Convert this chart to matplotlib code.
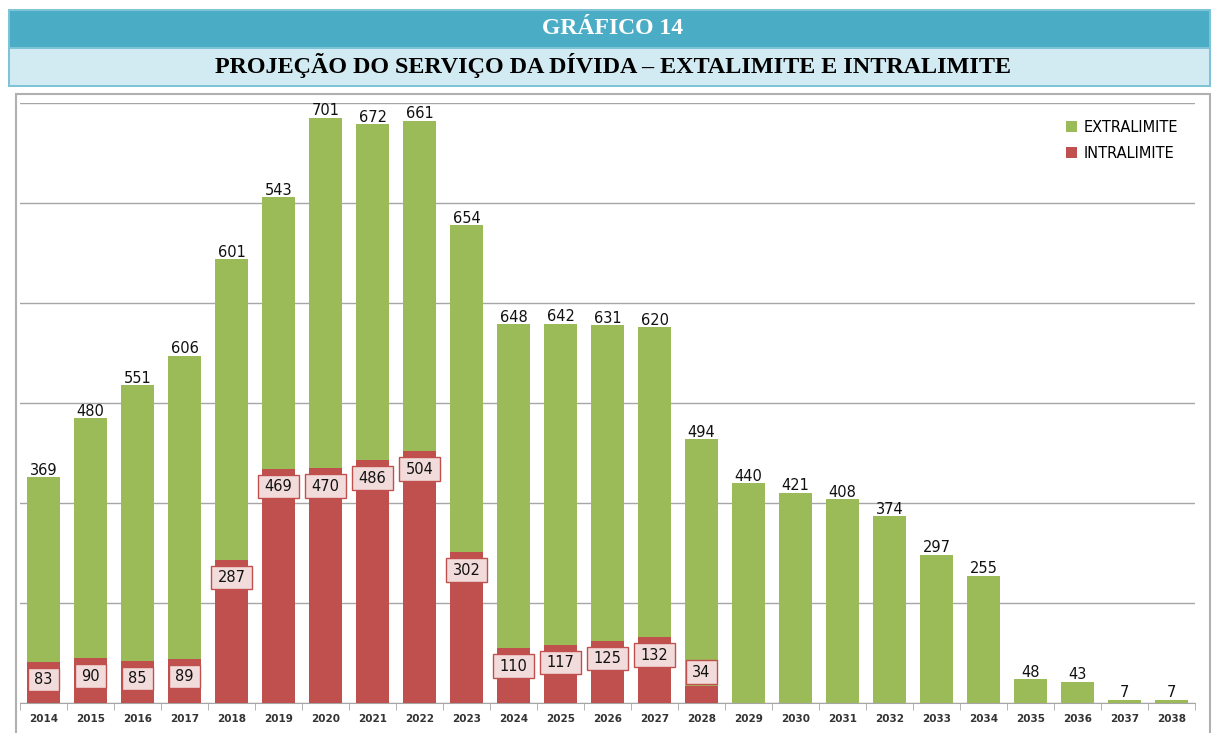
import matplotlib.pyplot as plt
import numpy as np
from matplotlib.patches import Rectangle
from matplotlib.path import Path

W, H = 1213, 733

years = [str(y) for y in range(2014, 2039)]
intralimite = [83, 90, 85, 89, 287, 469, 470, 486, 504, 302, 110, 117, 125, 132, 34,
               0, 0, 0, 0, 0, 0, 0, 0, 0, 0]
extralimite = [369, 480, 551, 606, 601, 543, 701, 672, 661, 654, 648, 642, 631, 620, 494,
               440, 421, 408, 374, 297, 255, 48, 43, 7, 7]

GREEN = "#9BBB59"
RED = "#C0504D"
TEAL = "#4BACC6"

plt.rcParams["font.family"] = ["DejaVu Sans"]


def fx(px):
    return px / W


def fy(py):
    return 1 - py / H


def wide_box(x0, y0, width, height, mutation_size):
    # label box with more padding left/right than top/bottom
    px, py = 0.45 * mutation_size, 0.3 * mutation_size
    x0, y0 = x0 - px, y0 - py
    x1, y1 = x0 + width + 2 * px, y0 + height + 2 * py
    return Path([(x0, y0), (x1, y0), (x1, y1), (x0, y1), (x0, y0)], closed=True)


fig = plt.figure(figsize=(W / 100, H / 100), dpi=100)

# title boxes
fig.patches.append(Rectangle((fx(8), fy(87)), fx(1203), 78 / H, transform=fig.transFigure,
                             fc="#7FC3D6", ec="none", zorder=0))
fig.patches.append(Rectangle((fx(10), fy(47)), fx(1199), 36 / H, transform=fig.transFigure,
                             fc=TEAL, ec="none", zorder=1))
fig.patches.append(Rectangle((fx(10), fy(85)), fx(1199), 36 / H, transform=fig.transFigure,
                             fc="#D2EBF2", ec="none", zorder=1))
fig.text(fx(613), fy(28), "GRÁFICO 14", ha="center", va="center", color="white",
         fontsize=17, fontweight="bold", family="Liberation Serif")
fig.text(fx(613), fy(66), "PROJEÇÃO DO SERVIÇO DA DÍVIDA – EXTALIMITE E INTRALIMITE",
         ha="center", va="center", color="black", fontsize=17.4, fontweight="bold",
         family="Liberation Serif")

# chart frame
fig.patches.append(Rectangle((fx(16), fy(740)), fx(1194), 646 / H, transform=fig.transFigure,
                             fc="white", ec="#B0B0B0", lw=1.5, zorder=0))

ax = fig.add_axes([fx(20), fy(703), fx(1175), 600 / H])
ax.set_zorder(3)
ax.set_facecolor("none")
x = np.arange(len(years))
bw = 0.69
ax.bar(x, intralimite, bw, color=RED, label="INTRALIMITE", zorder=3)
ax.bar(x, extralimite, bw, bottom=intralimite, color=GREEN, label="EXTRALIMITE", zorder=3)

ax.set_xlim(-0.5, len(years) - 0.5)
ax.set_ylim(0, 1200)
ax.set_yticks(range(0, 1201, 200))
ax.set_yticklabels([])
ax.tick_params(axis="y", length=0)
ax.yaxis.grid(True, color="#A6A6A6", lw=1)
ax.set_axisbelow(True)
for s in ["left", "right", "top"]:
    ax.spines[s].set_visible(False)
ax.spines["bottom"].set_color("#A6A6A6")

ax.set_xticks(x)
ax.set_xticklabels(years, fontsize=7.5, fontweight="bold", color="#333333")
ax.tick_params(axis="x", length=0, pad=8)
ax.set_xticks(np.arange(-0.5, len(years)), minor=True)
ax.tick_params(axis="x", which="minor", length=5, color="#A6A6A6", direction="out")

for i in range(len(years)):
    top = intralimite[i] + extralimite[i]
    ax.annotate(str(extralimite[i]), (x[i], top), xytext=(0, -0.5), textcoords="offset points",
                ha="center", va="bottom", fontsize=10.5, color="#111111")
    if intralimite[i] > 0:
        off = 10 if years[i] == "2028" else -13
        ax.annotate(str(intralimite[i]), (x[i], intralimite[i]), xytext=(0, off),
                    textcoords="offset points", ha="center", va="center", fontsize=10.5,
                    color="#111111", zorder=5,
                    bbox=dict(boxstyle=wide_box, fc="#F2DCDB", ec=RED, lw=1))

h, l = ax.get_legend_handles_labels()
ax.legend(h[::-1], l[::-1], loc="upper right", bbox_to_anchor=(0.997, 0.994), frameon=False,
          fontsize=10.5, handlelength=0.75, handleheight=0.75, labelspacing=0.75,
          handletextpad=0.5)

fig.savefig("out.png", dpi=100)
